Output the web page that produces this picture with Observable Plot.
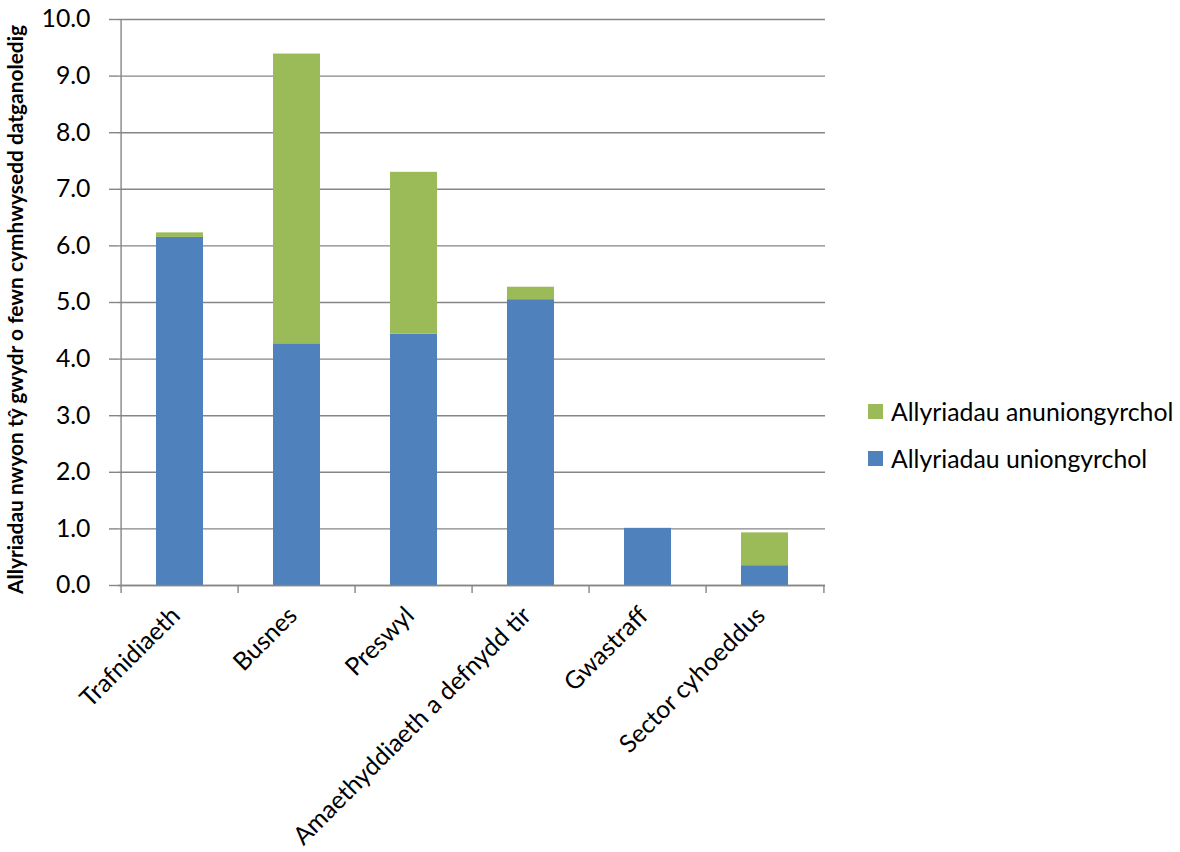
<!DOCTYPE html>
<html>
<head>
<meta charset="utf-8">
<script src="https://cdn.jsdelivr.net/npm/d3@7"></script>
<script src="https://cdn.jsdelivr.net/npm/@observablehq/plot@0.6"></script>
<style>
  body { margin: 0; background: #fff; font-family: Lato, sans-serif; }
  #wrap { position: relative; width: 1180px; height: 852px; overflow: hidden; }
  #legend { position: absolute; left: 868px; top: 388px; font-size: 24.8px; color: #000; }
  .li { display: flex; align-items: center; height: 47px; }
  .sw { width: 15px; height: 15px; margin-right: 8px; }
  #ytitle { position: absolute; left: -336px; top: 297px; width: 700px; height: 25px; line-height: 25px;
            text-align: center; font-size: 20.9px; font-weight: bold; color: #000; white-space: nowrap;
            transform: rotate(-90deg); transform-origin: 50% 50%; }
</style>
</head>
<body>
<div id="wrap"></div>
<script>
const categories = ["Trafnidiaeth", "Busnes", "Preswyl", "Amaethyddiaeth a defnydd tir", "Gwastraff", "Sector cyhoeddus"];
const seriesNames = ["Allyriadau uniongyrchol", "Allyriadau anuniongyrchol"];
const direct = [6.15, 4.27, 4.44, 5.05, 1.01, 0.35];
const indirect = [0.08, 5.12, 2.86, 0.22, 0.0, 0.58];
const yTicks = [0, 1, 2, 3, 4, 5, 6, 7, 8, 9, 10];
const colors = ["#4F81BD", "#9BBB59"];
const yTitle = "Allyriadau nwyon tŷ gwydr o fewn cymhwysedd datganoledig";

const rows = [];
categories.forEach((c, i) => {
  rows.push({cat: c, series: seriesNames[0], value: direct[i]});
  rows.push({cat: c, series: seriesNames[1], value: indirect[i]});
});

const W = 1180, H = 852;
const mL = 118, mR = 355, mT = 19, mB = 267;
const step = (W - mL - mR) / categories.length;
const grey = "#868686";

const chart = Plot.plot({
  width: W, height: H,
  marginLeft: mL, marginRight: mR, marginTop: mT, marginBottom: mB,
  style: {fontFamily: "Lato, sans-serif", fontSize: "24.8px", background: "#fff", color: "#000"},
  x: {domain: categories, paddingInner: 0.6, paddingOuter: 0.3, label: null},
  y: {domain: [0, 10], label: null},
  color: {domain: seriesNames, range: colors},
  marks: [
    Plot.gridY(yTicks, {stroke: grey, strokeOpacity: 1, strokeWidth: 1.4}),
    Plot.ruleX([categories[0]], {dx: -step / 2, y1: 0, y2: 10, stroke: grey, strokeWidth: 1.4}),
    Plot.axisY({ticks: yTicks, tickFormat: d3.format(".1f"), tickSize: 9, tickPadding: 19, stroke: grey, strokeWidth: 1.4, label: null}),
    Plot.axisX({ticks: categories, tickSize: 8, text: null, dx: -step / 2, stroke: grey, strokeWidth: 1.4, label: null}),
    Plot.axisX({ticks: [categories[categories.length - 1]], tickSize: 8, text: null, dx: step / 2, stroke: grey, strokeWidth: 1.4, label: null}),
    Plot.axisX({ticks: categories, tickSize: 0, tickPadding: 26, dx: -4, tickRotate: -45, label: null}),
    Plot.barY(rows, Plot.stackY({x: "cat", y: "value", fill: "series", order: seriesNames})),
    Plot.ruleY([0], {stroke: grey, strokeWidth: 1.4})
  ]
});
const wrap = document.getElementById("wrap");
wrap.appendChild(chart);

const title = document.createElement("div");
title.id = "ytitle";
title.textContent = yTitle;
wrap.appendChild(title);

const legend = document.createElement("div");
legend.id = "legend";
[1, 0].forEach(i => {
  const item = document.createElement("div");
  item.className = "li";
  const sw = document.createElement("span");
  sw.className = "sw";
  sw.style.background = colors[i];
  const t = document.createElement("span");
  t.textContent = seriesNames[i];
  item.appendChild(sw); item.appendChild(t);
  legend.appendChild(item);
});
wrap.appendChild(legend);
</script>
</body>
</html>
